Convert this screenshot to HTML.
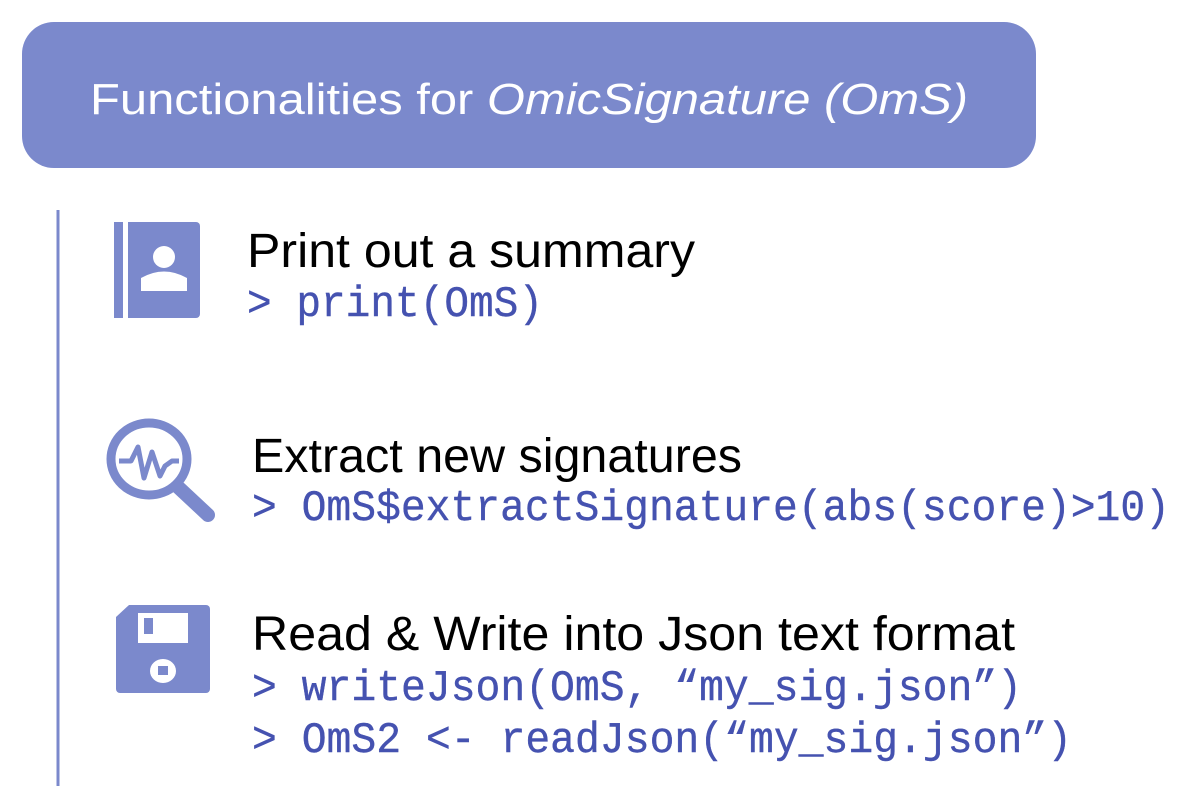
<!DOCTYPE html>
<html><head><meta charset="utf-8"><style>
html,body{margin:0;padding:0;background:#fff;width:1188px;height:808px;overflow:hidden}
svg{display:block}
.t{font-family:"Liberation Sans",sans-serif;font-size:48px;fill:#000}
.c{font-family:"Liberation Mono",monospace;font-size:44px;fill:#4552b0;stroke:#4552b0;stroke-width:0.4}
</style></head><body>
<svg width="1188" height="808" viewBox="0 0 1188 808">
<rect x="22" y="22" width="1014" height="146" rx="32" fill="#7b89cc"/>
<text x="90" y="114" font-family="Liberation Sans, sans-serif" font-size="44" fill="#fff" textLength="878" lengthAdjust="spacingAndGlyphs">Functionalities for <tspan font-style="italic">OmicSignature (OmS)</tspan></text>
<line x1="58" y1="210" x2="58" y2="786" stroke="#7b89cc" stroke-width="3"/>
<rect x="114" y="222" width="9" height="96" fill="#7b89cc"/>
<path d="M128 222 H196 a4 4 0 0 1 4 4 V314 a4 4 0 0 1 -4 4 H128 Z" fill="#7b89cc"/>
<circle cx="164" cy="257" r="11" fill="#fff"/>
<path d="M141 291 V278 Q164 265 187 278 V291 Z" fill="#fff"/>
<ellipse cx="149" cy="459" rx="38" ry="36" fill="none" stroke="#7b89cc" stroke-width="9"/>
<polyline points="119,461 131,461 138,447 144,478 152,452 160,476 165,466 172,461 179,461" fill="none" stroke="#7b89cc" stroke-width="5" stroke-linejoin="round"/>
<line x1="178" y1="487" x2="208" y2="515" stroke="#7b89cc" stroke-width="14" stroke-linecap="round"/>
<path d="M129 605 H206 a4 4 0 0 1 4 4 V689 a4 4 0 0 1 -4 4 H120 a4 4 0 0 1 -4 -4 V617 Z" fill="#7b89cc"/>
<rect x="138" y="613" width="50" height="30" fill="#fff"/>
<rect x="144" y="618" width="9" height="16" fill="#7b89cc"/>
<ellipse cx="163" cy="671" rx="13" ry="12" fill="#fff"/>
<rect x="158" y="666" width="10" height="9" fill="#7b89cc"/>
<text class="t" x="247" y="267" textLength="448" lengthAdjust="spacingAndGlyphs">Print out a summary</text>
<text class="c" x="247" y="316" textLength="296" lengthAdjust="spacingAndGlyphs">&gt; print(OmS)</text>
<text class="t" x="252" y="472" textLength="490" lengthAdjust="spacingAndGlyphs">Extract new signatures</text>
<text class="c" x="252" y="520" textLength="918" lengthAdjust="spacingAndGlyphs">&gt; OmS$extractSignature(abs(score)&gt;10)</text>
<text class="t" x="252" y="650" textLength="763" lengthAdjust="spacingAndGlyphs">Read &amp; Write into Json text format</text>
<text class="c" x="252" y="700" textLength="770" lengthAdjust="spacingAndGlyphs">&gt; writeJson(OmS, “my_sig.json”)</text>
<text class="c" x="252" y="752" textLength="820" lengthAdjust="spacingAndGlyphs">&gt; OmS2 &lt;- readJson(“my_sig.json”)</text>
</svg>
</body></html>
